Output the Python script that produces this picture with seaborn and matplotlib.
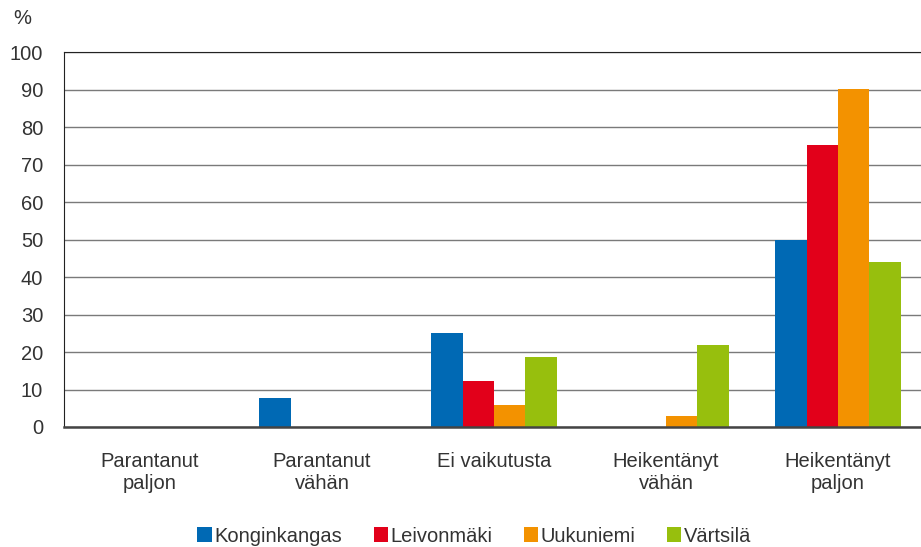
import pandas as pd
import seaborn as sns
import matplotlib.pyplot as plt

categories = ["Parantanut\npaljon", "Parantanut\nvähän", "Ei vaikutusta",
              "Heikentänyt\nvähän", "Heikentänyt\npaljon"]
konginkangas = [0, 7.7, 25, 0, 50]
leivonmaki = [0, 0, 12.2, 0, 75.2]
uukuniemi = [0, 0, 6, 2.9, 90.2]
vartsila = [0, 0, 18.8, 21.8, 43.9]

series = {
    "Konginkangas": konginkangas,
    "Leivonmäki": leivonmaki,
    "Uukuniemi": uukuniemi,
    "Värtsilä": vartsila,
}
colors = ["#0069B4", "#E2001A", "#F39200", "#97BF0D"]


def build_frame() -> pd.DataFrame:
    rows = []
    for name, values in series.items():
        for cat, val in zip(categories, values):
            rows.append({"kategoria": cat, "kunta": name, "osuus": val})
    return pd.DataFrame(rows)


def plot_chart(df: pd.DataFrame):
    sns.set_style("white")
    plt.rcParams["font.family"] = ["Liberation Sans", "DejaVu Sans"]
    text_color = "#333333"
    fs = 14.5

    fig = plt.figure(figsize=(9.21, 5.47), dpi=100)
    # plot area runs off the right edge a little, like in the original
    ax = fig.add_axes([64 / 921, 1 - 427 / 547, 857 / 921, 375 / 547])

    sns.barplot(data=df, x="kategoria", y="osuus", hue="kunta", palette=colors,
                width=0.727, saturation=1, linewidth=0, ax=ax, legend=True)

    ax.set_ylim(0, 100)
    ax.set_xlim(-0.5, -0.5 + 857 / 172)
    ax.set_yticks(range(0, 101, 10))
    ax.yaxis.grid(True, color="#7a7a7a", linewidth=1)
    ax.set_axisbelow(True)
    ax.spines["right"].set_visible(False)
    ax.spines["top"].set_color("#222222")
    ax.spines["left"].set_color("#222222")
    ax.spines["bottom"].set_color("#444444")
    ax.spines["bottom"].set_linewidth(1.8)
    ax.tick_params(axis="both", length=0, labelsize=fs, colors=text_color)
    ax.tick_params(axis="x", pad=18)
    ax.tick_params(axis="y", pad=15)
    ax.set_xlabel("")
    ax.set_ylabel("")
    fig.text(22 / 921, 1 - 19 / 547, "%", fontsize=fs, color=text_color,
             ha="center", va="center")

    ax.legend(loc="center", bbox_to_anchor=(0.5 + 14 / 921, 1 - 536 / 547),
              bbox_transform=fig.transFigure, ncol=4, frameon=False,
              fontsize=fs, handlelength=0.7, handleheight=0.7,
              handletextpad=0.15, columnspacing=1.55, borderaxespad=0,
              labelcolor=text_color)

    fig.savefig("out.png", dpi=100)


def main():
    df = build_frame()
    plot_chart(df)


if __name__ == '__main__':
    main()
